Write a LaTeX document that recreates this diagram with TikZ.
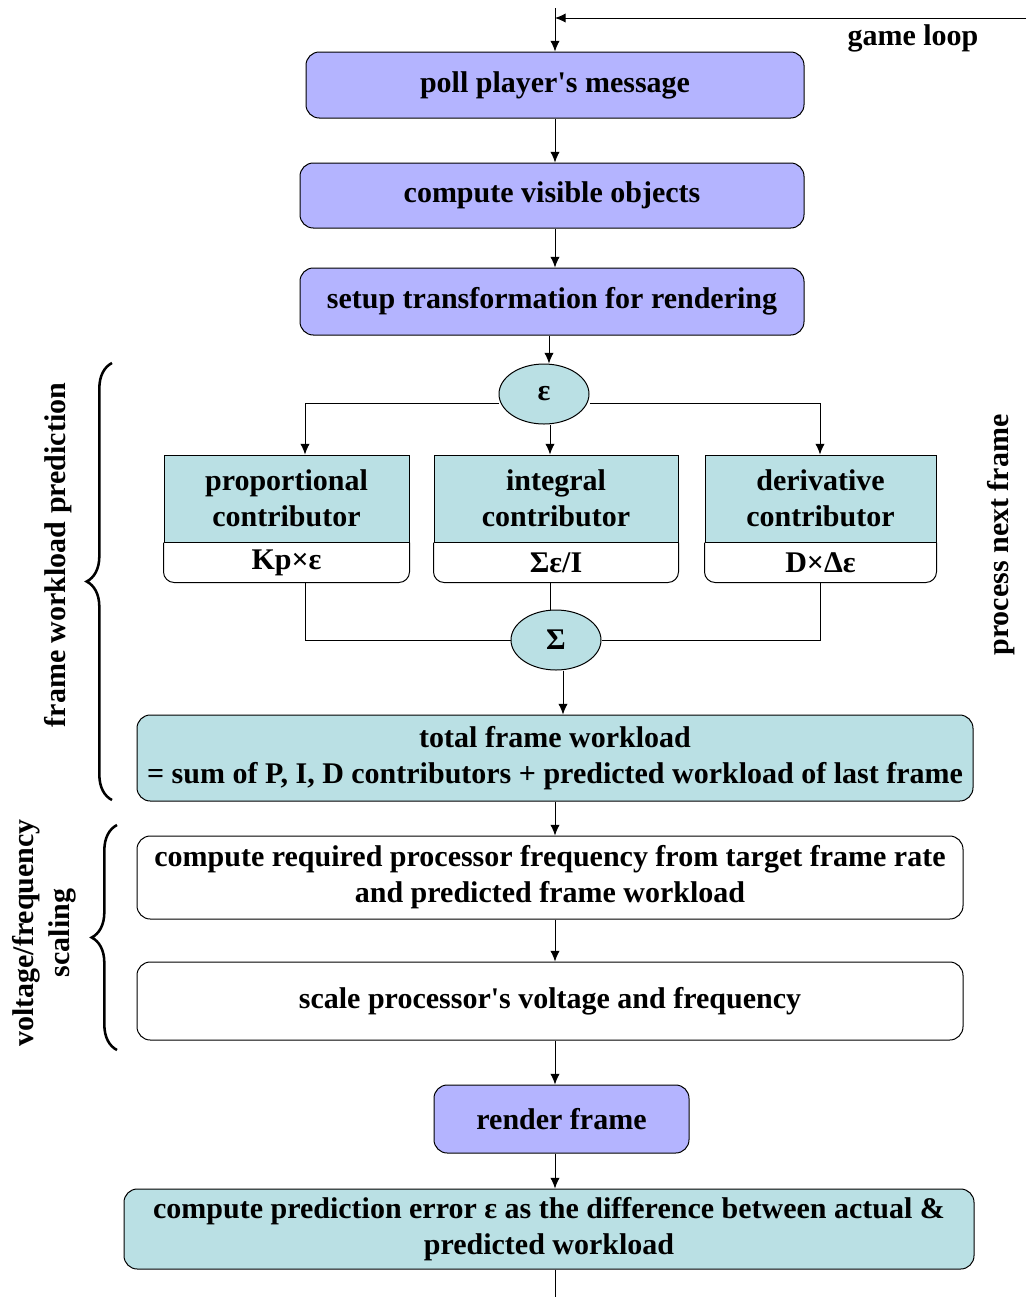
\documentclass[tikz,border=0pt]{standalone}
\usepackage{fontspec}
\setmainfont{Liberation Serif}
\usetikzlibrary{arrows.meta,calc,positioning,shapes.geometric,decorations.pathreplacing}
\definecolor{purplefill}{RGB}{180,180,255}
\definecolor{tealfill}{RGB}{186,224,228}
\tikzset{
  every node/.style={font=\bfseries\fontsize{22.5}{27}\selectfont},
  box/.style={draw,rounded corners=10pt,align=center,inner sep=2pt},
  purplebox/.style={box,fill=purplefill},
  tealbox/.style={box,fill=tealfill},
  whitebox/.style={box,fill=white},
  pidhead/.style={draw,fill=tealfill,align=center,minimum height=65.25pt},
  pidval/.style={minimum height=29.25pt,inner sep=0pt},
  sumnode/.style={draw,ellipse,fill=tealfill,minimum width=67.5pt,minimum height=45pt,inner sep=0pt},
  arr/.style={-{Latex[length=8pt,width=7pt]}},
  brace/.style={decorate,decoration={brace,amplitude=19pt},line width=1.9pt}
}
\begin{document}
\begin{tikzpicture}[x=0.75pt,y=-0.75pt,line width=0.75pt]
  \useasboundingbox (0,0) rectangle (1026,1297);
  % main flow
  \node[purplebox,minimum width=373.5pt,minimum height=49.5pt] (poll) at (555,85) {poll player\textquotesingle s message};
  \node[purplebox,minimum width=378pt,minimum height=48.75pt] (vis) at (552,195.5) {compute visible objects};
  \node[purplebox,minimum width=378pt,minimum height=50.25pt] (setup) at (552,301.5) {setup transformation for rendering};
  \node[sumnode] (eps) at (544,394) {ε};
  % PID contributors
  \node[pidhead,minimum width=183.75pt] (prop) at (286.5,498.5) {proportional\\contributor};
  \node[pidval,minimum width=183.75pt,below=0pt of prop] (propv) {Kp×ε};
  \node[pidhead,minimum width=183pt] (integ) at (556,498.5) {integral\\contributor};
  \node[pidval,minimum width=183pt,below=0pt of integ] (integv) {Σε/I};
  \node[pidhead,minimum width=173.25pt] (deriv) at (820.5,498.5) {derivative\\contributor};
  \node[pidval,minimum width=173.25pt,below=0pt of deriv] (derivv) {D×Δε};
  \draw[rounded corners=8pt] (propv.north west) -- (propv.south west) -- (propv.south east) -- (propv.north east);
  \draw[rounded corners=8pt] (integv.north west) -- (integv.south west) -- (integv.south east) -- (integv.north east);
  \draw[rounded corners=8pt] (derivv.north west) -- (derivv.south west) -- (derivv.south east) -- (derivv.north east);
  \node[sumnode] (sum) at (556,640) {Σ};
  \node[tealbox,minimum width=627pt,minimum height=64.5pt] (total) at (555,758)
    {total frame workload\\= sum of P, I, D contributors + predicted workload of last frame};
  \node[whitebox,minimum width=619.5pt,minimum height=62.25pt] (freq) at (550,877.5)
    {compute required processor frequency from target frame rate\\and predicted frame workload};
  \node[whitebox,minimum width=619.5pt,minimum height=58.5pt] (scale) at (550,1001) {scale processor\textquotesingle s voltage and frequency};
  \node[purplebox,minimum width=191.25pt,minimum height=51pt] (render) at (561.5,1119) {render frame};
  \node[tealbox,minimum width=637.5pt,minimum height=60pt] (err) at (549,1229)
    {compute prediction error ε as the difference between actual \&\\predicted workload};
  % game loop
  \coordinate (top) at (555,8);
  \coordinate (loopR) at (1026,18);
  \coordinate (bot) at (555,1297);
  \node (loop) at (913,38) {game loop};
  \draw[arr] (top) -- (top |- poll.north);
  \draw[arr] (loopR) -- (top |- loopR);
  % connectors
  \draw[arr] (poll.south -| top) -- (top |- vis.north);
  \draw[arr] (vis.south -| top) -- (top |- setup.north);
  \draw[arr] (549,0 |- setup.south) -- (549,0 |- eps.north);
  \draw[arr] (eps.west |- 0,403) -| (305,0 |- prop.north);
  \draw[arr] (eps.east |- 0,403) -| (820,0 |- deriv.north);
  \draw[arr] (550,0 |- eps.south) -- (550,0 |- integ.north);
  \draw (305,0 |- propv.south) |- (sum.west);
  \draw (820,0 |- derivv.south) |- (sum.east);
  \draw (550,0 |- integv.south) -- (550,0 |- sum.north);
  \draw[arr] (563,0 |- sum.south) -- (563,0 |- total.north);
  \draw[arr] (top |- total.south) -- (top |- freq.north);
  \draw[arr] (top |- freq.south) -- (top |- scale.north);
  \draw[arr] (top |- scale.south) -- (top |- render.north);
  \draw[arr] (top |- render.south) -- (top |- err.north);
  \draw (top |- err.south) -- (bot);
  % braces and side labels
  \draw[brace] (112,800) -- (112,363);
  \draw[brace] (117,1050) -- (117,825);
  \node[rotate=90] (predlbl) at (58,555) {frame workload prediction};
  \node[rotate=90,align=center] (dvfslbl) at (44,933) {voltage/frequency\\scaling};
  \node[rotate=90] (nextlbl) at (1001,535) {process next frame};
\end{tikzpicture}
\end{document}
